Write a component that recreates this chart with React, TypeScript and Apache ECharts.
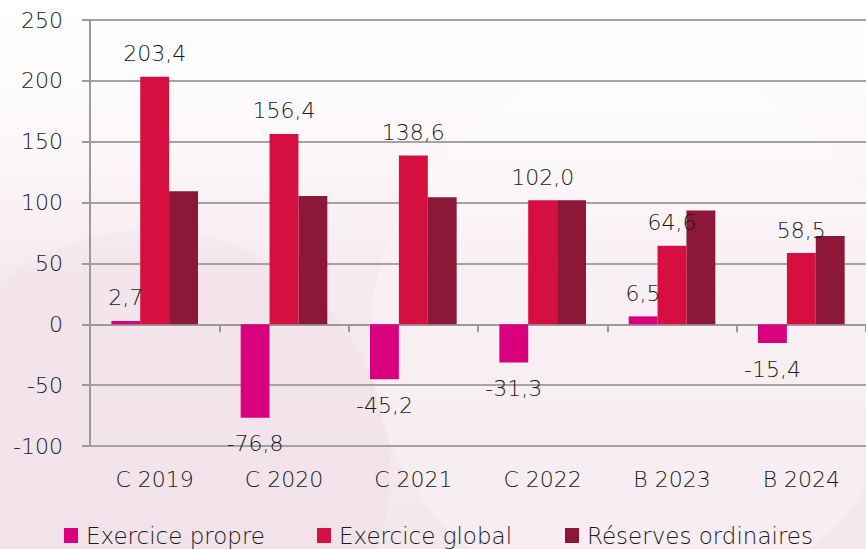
import React, { useEffect, useRef } from "react";
import * as echarts from "echarts";

const categories = ["C 2019", "C 2020", "C 2021", "C 2022", "B 2023", "B 2024"];
const exercicePropre = [2.7, -76.8, -45.2, -31.3, 6.5, -15.4];
const exerciceGlobal = [203.4, 156.4, 138.6, 102.0, 64.6, 58.5];
const reservesOrdinaires = [109.3, 105.3, 104.4, 102.0, 93.4, 72.6];
const seriesNames = ["Exercice propre", "Exercice global", "Réserves ordinaires"];
const colors = ["#D9007E", "#D50F40", "#8C1738"];
const legendLefts = [64, 317, 565];

const FONT = "DejaVu Sans";

function fmt(v: number) {
  return v.toFixed(1).replace(".", ",");
}

function labelled(values: number[]) {
  return values.map((v) => ({
    value: v,
    label: {
      show: true,
      position: v >= 0 ? "top" : "bottom",
      distance: v >= 0 ? 12 : 15,
      formatter: () => fmt(v),
      fontFamily: FONT,
      fontWeight: 200,
      fontSize: 22,
      color: "#1a1a1a",
    },
  }));
}

export default function App() {
  const ref = useRef<HTMLDivElement>(null);
  useEffect(() => {
    if (!ref.current) return;
    const chart = echarts.init(ref.current, undefined, { renderer: "svg" });
    const axisLabelStyle = {
      fontFamily: FONT,
      fontWeight: 200,
      fontSize: 22,
      color: "#1a1a1a",
    };
    chart.setOption({
      animation: false,
      backgroundColor: {
        type: "linear",
        x: 0,
        y: 0,
        x2: 0,
        y2: 1,
        colorStops: [
          { offset: 0, color: "#FFFFFF" },
          { offset: 0.25, color: "#FCF8FA" },
          { offset: 0.5, color: "#F6EAF0" },
          { offset: 1, color: "#F4E7ED" },
        ],
      },
      graphic: [
        {
          type: "circle",
          shape: { cx: 150, cy: 470, r: 240 },
          style: { fill: "rgba(215,150,180,0.06)" },
          silent: true,
          z: -10,
        },
        {
          type: "circle",
          shape: { cx: 640, cy: 340, r: 270 },
          style: { fill: "rgba(255,255,255,0.28)" },
          silent: true,
          z: -9,
        },
      ],
      grid: { left: 90, right: 0, top: 20, bottom: 103, containLabel: false },
      legend: seriesNames.map((n, i) => ({
        bottom: 2,
        left: legendLefts[i],
        padding: 0,
        itemWidth: 14,
        itemHeight: 15,
        icon: "rect",
        textStyle: { ...axisLabelStyle, fontSize: 23, padding: [0, 0, 0, 3] },
        data: [n],
      })),
      xAxis: [
        {
          type: "category",
          data: categories,
          position: "bottom",
          axisLine: { show: false, onZero: false },
          axisTick: { show: false },
          axisLabel: { ...axisLabelStyle, margin: 22 },
        },
        {
          type: "category",
          data: categories,
          position: "bottom",
          axisLine: { show: true, onZero: true, lineStyle: { color: "#9a9a9a", width: 2 } },
          axisTick: { show: true, length: 8, lineStyle: { color: "#9a9a9a", width: 2 } },
          axisLabel: { show: false },
        },
      ],
      yAxis: {
        type: "value",
        min: -100,
        max: 250,
        interval: 50,
        axisLine: { show: true, lineStyle: { color: "#9a9a9a", width: 2 } },
        axisTick: { show: true, length: 8, lineStyle: { color: "#9a9a9a", width: 2 } },
        splitLine: { show: true, lineStyle: { color: "#a3a3a3", width: 2 } },
        axisLabel: { ...axisLabelStyle, margin: 27 },
      },
      series: [
        {
          name: seriesNames[0],
          type: "bar",
          data: labelled(exercicePropre),
          itemStyle: { color: colors[0] },
          barGap: "0%",
          barCategoryGap: "33%",
          z: 3,
        },
        {
          name: seriesNames[1],
          type: "bar",
          data: labelled(exerciceGlobal),
          itemStyle: { color: colors[1] },
          barGap: "0%",
          barCategoryGap: "33%",
          z: 3,
        },
        {
          name: seriesNames[2],
          type: "bar",
          data: reservesOrdinaires,
          itemStyle: { color: colors[2] },
          barGap: "0%",
          barCategoryGap: "33%",
          z: 2,
        },
      ],
    });
    return () => chart.dispose();
  }, []);
  return <div ref={ref} style={{ width: 866, height: 549, position: "absolute", left: 0, top: 0 }} />;
}
